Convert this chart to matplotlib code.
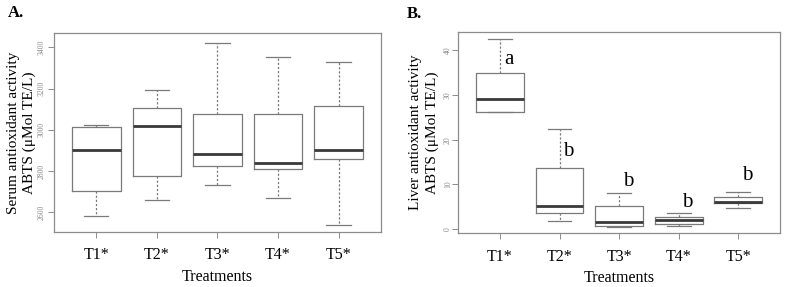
import numpy as np
import matplotlib
matplotlib.use("Agg")
import matplotlib.pyplot as plt

plt.rcParams['font.family'] = ['Liberation Serif', 'DejaVu Serif']

treatments = ['T1*', 'T2*', 'T3*', 'T4*', 'T5*']

# panel A: serum ABTS (whisker low, Q1, median, Q3, whisker high)
serum_lo = [2581, 2658, 2731, 2671, 2537]
serum_q1 = [2702, 2775, 2823, 2812, 2857]
serum_med = [2902, 3017, 2885, 2841, 2902]
serum_q3 = [3012, 3104, 3075, 3075, 3114]
serum_hi = [3022, 3195, 3423, 3352, 3329]

# panel B: liver ABTS
liver_lo = [26.2, 1.9, 0.6, 0.8, 4.7]
liver_q1 = [26.2, 3.6, 0.74, 1.25, 5.8]
liver_med = [29.1, 5.3, 1.56, 2.1, 6.0]
liver_q3 = [34.9, 13.75, 5.1, 2.8, 7.3]
liver_hi = [42.5, 22.3, 8.1, 3.6, 8.4]

letters = ['a', 'b', 'b', 'b', 'b']
letter_y = [37.8, 17.3, 10.6, 6.0, 12.0]

box_col = '#7a7a7a'
frame_col = '#8c8c8c'


def stats(lo, q1, med, q3, hi):
    out = []
    for i in range(len(lo)):
        out.append(dict(whislo=lo[i], q1=q1[i], med=med[i], q3=q3[i],
                        whishi=hi[i], fliers=[]))
    return out


def panel(ax, st, ylim, yticks, ylabel, labpad, ylabpad):
    ax.bxp(st, positions=range(1, 6), widths=0.8, showfliers=False,
           boxprops=dict(color=box_col, lw=0.9),
           medianprops=dict(color='#3a3a3a', lw=2.0, solid_capstyle='butt'),
           whiskerprops=dict(color=box_col, lw=0.9, ls=(0, (1.8, 1.5))),
           capprops=dict(color=box_col, lw=0.9),
           capwidths=0.4)
    ax.set_xlim(0.3, 5.7)
    ax.set_ylim(*ylim)
    ax.set_yticks(yticks)
    ax.set_xticks(range(1, 6))
    ax.set_xticklabels(treatments, fontsize=11.5)
    for s in ax.spines.values():
        s.set_color(frame_col)
        s.set_linewidth(0.9)
    ax.tick_params(axis='y', labelsize=5.5, labelcolor='#8a8a8a', color=frame_col,
                   length=4, width=0.7, pad=labpad)
    for t in ax.get_yticklabels():
        t.set_rotation(90)
        t.set_va('center')
    ax.tick_params(axis='x', color=frame_col, length=4, width=0.7, pad=7)
    ax.set_xlabel('Treatments', fontsize=11.5, labelpad=4)
    ax.set_ylabel(ylabel, fontsize=11, linespacing=1.3, labelpad=ylabpad)


fig = plt.figure(figsize=(7.87, 2.87), dpi=100)
axA = fig.add_axes([0.0686, 0.1916, 0.4155, 0.6934])
axB = fig.add_axes([0.5824, 0.187, 0.4086, 0.7025])

panel(axA, stats(serum_lo, serum_q1, serum_med, serum_q3, serum_hi),
      (2505, 3469), [2600, 2800, 3000, 3200, 3400],
      'Serum antioxidant activity\nABTS (\u03bcMol TE/L)', 2, 1)
panel(axB, stats(liver_lo, liver_q1, liver_med, liver_q3, liver_hi),
      (-0.9, 44.1), [0, 10, 20, 30, 40],
      'Liver antioxidant activity\nABTS (\u03bcMol TE/L)', 0.5, 4)

for i in range(5):
    axB.text(i + 1.15, letter_y[i], letters[i], fontsize=15, ha='center', va='center')

fig.text(0.010, 0.955, 'A.', fontsize=12, fontweight='bold', va='center')
fig.text(0.517, 0.952, 'B.', fontsize=12, fontweight='bold', va='center')

fig.savefig('out.png', dpi=100)
